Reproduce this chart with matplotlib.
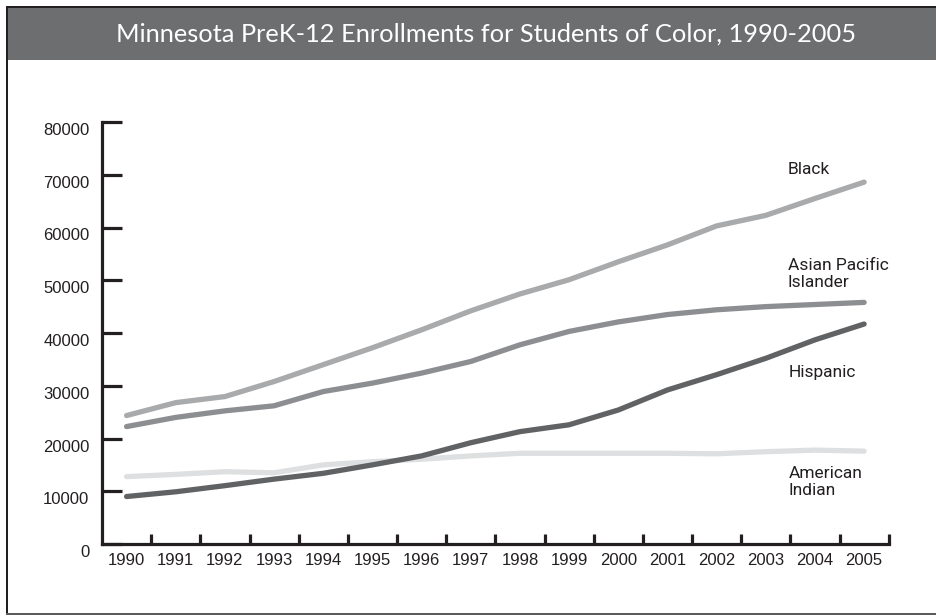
import matplotlib
matplotlib.use("Agg")
import matplotlib.pyplot as plt
from matplotlib.patches import Rectangle
from matplotlib.transforms import ScaledTranslation
from matplotlib import font_manager

years = list(range(1990, 2006))
black = [24350, 26800, 27950, 30800, 34000, 37200, 40600, 44200, 47400, 50100,
         53500, 56700, 60300, 62300, 65500, 68600]
asian = [22260, 24000, 25240, 26200, 28900, 30500, 32400, 34600, 37760, 40300,
         42100, 43500, 44400, 45000, 45400, 45800]
hispanic = [9000, 9900, 11060, 12300, 13400, 15000, 16700, 19200, 21300, 22600,
            25400, 29200, 32100, 35200, 38700, 41700]
amind = [12770, 13200, 13700, 13500, 15000, 15600, 16070, 16700, 17200, 17200,
         17200, 17200, 17100, 17500, 17800, 17600]
yticks = [0, 10000, 20000, 30000, 40000, 50000, 60000, 70000, 80000]
title = "Minnesota PreK-12 Enrollments for Students of Color, 1990-2005"

names = {f.name for f in font_manager.fontManager.ttflist}
narrow = 'Liberation Sans Narrow' if 'Liberation Sans Narrow' in names else 'Roboto'

W, H = 937, 616
fig = plt.figure(figsize=(W / 100, H / 100), dpi=100)
fig.patch.set_facecolor('white')

def rect(x0, y0, x1, y1, color):
    fig.patches.append(Rectangle((x0 / W, 1 - y1 / H), (x1 - x0) / W, (y1 - y0) / H,
                                 transform=fig.transFigure, color=color, lw=0, zorder=0))

rect(8, 8, 937, 60, '#6d6e70')
rect(6, 6, 937, 8, '#231f20')
rect(6, 6, 8.5, 615, '#231f20')
rect(6, 613, 937, 615, '#5a5b5d')

fig.text(486 / W, 1 - 34 / H, title, color='white', fontsize=18.3, family='Lato',
         ha='center', va='center')

ax = fig.add_axes([102 / W, (616 - 544) / H, (888.7 - 102) / W, (544 - 122) / H])
x = list(range(len(years)))
lw = 3.8
ax.plot(x, amind, color='#dedfe0', lw=lw, solid_capstyle='round')
ax.plot(x, hispanic, color='#616264', lw=lw, solid_capstyle='round')
ax.plot(x, asian, color='#8d8e91', lw=lw, solid_capstyle='round')
ax.plot(x, black, color='#a9aaac', lw=lw, solid_capstyle='round')

ax.set_xlim(-0.5, 15.5)
ax.set_ylim(0, 80000)
for s in ['top', 'right']:
    ax.spines[s].set_visible(False)
for s in ['left', 'bottom']:
    ax.spines[s].set_linewidth(2.3)
    ax.spines[s].set_color('#231f20')
    ax.spines[s].set_capstyle('projecting')

ax.set_yticks(yticks)
ax.set_yticklabels([str(v) for v in yticks])
ax.tick_params(axis='y', direction='in', length=14.5, width=2.3, color='#231f20',
               pad=9, labelsize=12, labelcolor='#231f20')
ax.set_xticks(x)
ax.set_xticklabels([str(y) for y in years])
ax.set_xticks([i + 0.5 for i in x], minor=True)
ax.tick_params(axis='x', which='major', length=0, pad=6.5, labelsize=12, labelcolor='#231f20')
ax.tick_params(axis='x', which='minor', direction='in', length=7.5, width=2.3, color='#231f20')
for lab in ax.get_yticklabels():
    lab.set_family('Liberation Sans')
    lab.set_transform(lab.get_transform() + ScaledTranslation(0, -7 / 100, fig.dpi_scale_trans))
for lab in ax.get_xticklabels():
    lab.set_family('Liberation Sans')

def ftext(px, py, s):
    fig.text(px / W, 1 - py / H, s, fontsize=12.5, family=narrow, color='#231f20',
             ha='left', va='center', linespacing=1.15)

ftext(788, 170, 'Black')
ftext(788, 274, 'Asian Pacific\nIslander')
ftext(789, 372, 'Hispanic')
ftext(789, 482, 'American\nIndian')

fig.savefig('out.png', dpi=100)
